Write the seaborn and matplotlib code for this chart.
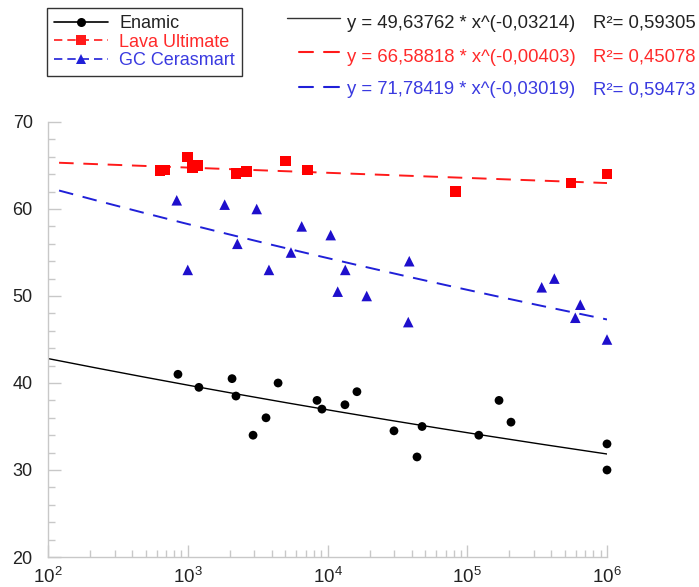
import numpy as np
import pandas as pd
import matplotlib
matplotlib.use("Agg")
import matplotlib.pyplot as plt
from matplotlib.lines import Line2D
from matplotlib.ticker import FixedLocator, LogLocator, NullFormatter
import seaborn as sns

sns.set_theme(style="white")
plt.rcParams['font.family'] = ['Liberation Sans', 'DejaVu Sans']
plt.rcParams['mathtext.fontset'] = 'custom'
plt.rcParams['mathtext.rm'] = 'Liberation Sans'
plt.rcParams['mathtext.it'] = 'Liberation Sans:italic'

# ---- data ----
enamic_x = [851, 1202, 2075, 2213, 2933, 3631, 4430, 8414, 9124, 13330, 16240,
            29900, 43700, 47500, 121000, 168800, 205600, 1e6, 1e6]
enamic_y = [41.0, 39.5, 40.5, 38.5, 34.0, 36.0, 40.0, 38.0, 37.0, 37.5, 39.0,
            34.5, 31.5, 35.0, 34.0, 38.0, 35.5, 33.0, 30.0]

lava_x = [633, 687, 1000, 1079, 1184, 2213, 2641, 5020, 7166, 82600, 552000, 1e6]
lava_y = [64.4, 64.5, 66.0, 64.8, 65.0, 64.1, 64.3, 65.5, 64.5, 62.0, 63.0, 64.0]

gc_x = [834, 1000, 1837, 2264, 3114, 3811, 5478, 6535, 10540, 11830, 13400,
        19080, 38460, 37840, 341000, 420000, 644000, 593000, 1e6]
gc_y = [61.0, 53.0, 60.5, 56.0, 60.0, 53.0, 55.0, 58.0, 57.0, 50.5, 53.0,
        50.0, 54.0, 47.0, 51.0, 52.0, 49.0, 47.5, 45.0]

series_names = ["Enamic", "Lava Ultimate", "GC Cerasmart"]
fit_a = [49.63762, 66.58818, 71.78419]
fit_b = [-0.03214, -0.00403, -0.03019]
fit_r2 = ["0,59305", "0,45078", "0,59473"]
fit_a_txt = ["49,63762", "66,58818", "71,78419"]
fit_b_txt = ["-0,03214", "-0,00403", "-0,03019"]

marker_colors = ["black", "#ff0000", "#1e0fcc"]
line_colors = ["black", "#ff1a1a", "#2020d8"]
text_colors = ["#222222", "#ff2a2a", "#3a3ae0"]
markers = ["o", "s", "^"]
marker_sizes = [40, 58, 58]
fit_start = [100, 120, 120]
fit_lw = [1.0, 1.4, 1.4]
DASH = [7.5, 5.0]

xs = [enamic_x, lava_x, gc_x]
ys = [enamic_y, lava_y, gc_y]

fig = plt.figure(figsize=(6.99, 5.87), dpi=100)
ax = fig.add_axes([48/699, 1-557/587, (607-48)/699, (557-122)/587])

for i in range(3):
    xf = np.logspace(np.log10(fit_start[i]), 6, 200)
    yf = fit_a[i] * xf ** fit_b[i]
    fit_df = pd.DataFrame({"x": xf, "y": yf})
    sns.lineplot(data=fit_df, x="x", y="y", ax=ax, color=line_colors[i],
                 linewidth=fit_lw[i], zorder=2)
    if i > 0:
        ax.lines[-1].set_dashes(DASH)
    df = pd.DataFrame({"x": xs[i], "y": ys[i]})
    sns.scatterplot(data=df, x="x", y="y", ax=ax, color=marker_colors[i],
                    marker=markers[i], s=marker_sizes[i], edgecolor="none",
                    linewidth=0, zorder=3)
for c in ax.collections:
    c.set_clip_on(False)

ax.set_xscale("log")
ax.set_xlim(1e2, 1e6)
ax.set_ylim(20, 70)
ax.set_xlabel("")
ax.set_ylabel("")

ax.set_yticks([20, 30, 40, 50, 60, 70])
ax.yaxis.set_minor_locator(FixedLocator(np.arange(20, 71, 2)))
ax.set_xticks([1e2, 1e3, 1e4, 1e5, 1e6])
ax.set_xticklabels([r"10$^{2}$", r"10$^{3}$", r"10$^{4}$", r"10$^{5}$", r"10$^{6}$"])
ax.xaxis.set_minor_locator(LogLocator(base=10, subs=np.arange(2, 10), numticks=20))
ax.xaxis.set_minor_formatter(NullFormatter())

for s in ["top", "right"]:
    ax.spines[s].set_visible(False)
for s in ["left", "bottom"]:
    ax.spines[s].set_color("#c8c8c8")
    ax.spines[s].set_linewidth(1.0)

ax.tick_params(axis="both", which="major", direction="in", length=9, width=1,
               color="#c8c8c8", labelsize=13, labelcolor="#222222")
ax.tick_params(axis="both", which="minor", direction="in", length=5, width=1,
               color="#c8c8c8")
ax.tick_params(axis="y", which="major", pad=11)
ax.tick_params(axis="x", which="major", pad=7, labelsize=13.5)
ax.tick_params(axis="y", which="both", left=True)
ax.tick_params(axis="x", which="both", bottom=True)

# legend
handles = []
for i in range(3):
    handles.append(Line2D([0], [0], color=line_colors[i], marker=markers[i],
                          markersize=7 if i else 6.5, linewidth=1.2,
                          linestyle="-" if i == 0 else (0, (5, 3)),
                          markeredgewidth=0))
leg = ax.legend(handles, series_names, loc="upper left",
                bbox_to_anchor=(47/699, 1-8/587), bbox_transform=fig.transFigure,
                borderaxespad=0, frameon=True, fancybox=False, fontsize=13,
                handlelength=3.0, handletextpad=0.6, labelspacing=0.08,
                borderpad=0.4)
leg.get_frame().set_edgecolor("black")
leg.get_frame().set_linewidth(1.0)
for t, c in zip(leg.get_texts(), text_colors):
    t.set_color(c)

# equations
eq_y = [23, 57, 90]
line_y = [18, 52, 87]
for i in range(3):
    yl = 1 - line_y[i]/587
    if i == 0:
        fig.add_artist(Line2D([287/699, 340/699], [yl, yl], transform=fig.transFigure,
                              color="#333333", linewidth=1.0))
    else:
        for xa, xb in [(299, 313), (324, 339)]:
            fig.add_artist(Line2D([xa/699, xb/699], [yl, yl], transform=fig.transFigure,
                                  color=line_colors[i], linewidth=1.5))
    yt = 1 - eq_y[i]/587
    fig.text(347/699, yt, f"y = {fit_a_txt[i]} * x^({fit_b_txt[i]})",
             color=text_colors[i], fontsize=13.3, va="center", ha="left")
    fig.text(593/699, yt, f"R²= {fit_r2[i]}", color=text_colors[i],
             fontsize=13.3, va="center", ha="left")

fig.savefig("out.png", dpi=100)
